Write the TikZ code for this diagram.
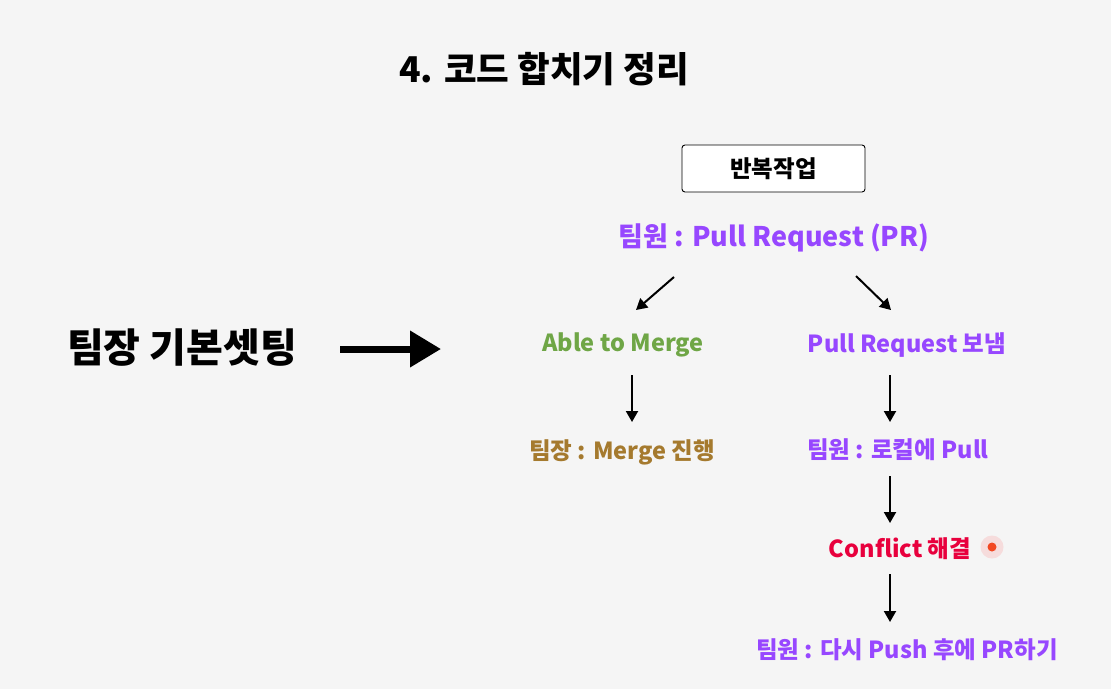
\documentclass[tikz,border=0pt]{standalone}
\usepackage{fontspec}
\setmainfont{Noto Sans CJK KR}
\usetikzlibrary{arrows.meta}
\definecolor{bg}{HTML}{F5F5F5}
\definecolor{prp}{HTML}{9747FF}
\definecolor{grn}{HTML}{6FA646}
\definecolor{brn}{HTML}{A57A2E}
\definecolor{red1}{HTML}{E8003D}
\definecolor{dotred}{HTML}{F24822}
\definecolor{dothalo}{HTML}{F6DCDC}
\tikzset{
  lbl/.style={font=\bfseries\fontsize{23.5}{28}\selectfont, inner sep=0pt, anchor=center},
  arr/.style={line width=2pt, -{Triangle[length=11pt,width=12pt]}},
}
\begin{document}
\begin{tikzpicture}[x=1pt,y=-1pt]
\fill[bg] (0,0) rectangle (1111,689);
\useasboundingbox (0,0) rectangle (1111,689);
% title
\node[lbl, font=\bfseries\fontsize{35.5}{40}\selectfont] (title) at (544,69) {4. 코드 합치기 정리};
% box
\node[draw=black, line width=0.9pt, fill=white, rounded corners=3pt, minimum width=183pt, minimum height=47pt, inner sep=0pt, font=\bfseries\fontsize{23.5}{28}\selectfont] (box) at (773.5,168.5) {반복작업};
\node[lbl, prp, font=\bfseries\fontsize{27}{32}\selectfont] (pr) at (774,238) {팀원 : Pull Request (PR)};
% left
\node[lbl, font=\bfseries\fontsize{40}{46}\selectfont] (lead) at (182,348) {팀장 기본셋팅};
\coordinate (bigA) at (340,349);
\coordinate (bigB) at (441,349);
\draw[line width=7pt, -{Triangle[length=31pt,width=35pt]}] (bigA) -- (bigB);
% split arrows
\coordinate (s1) at (674,277); \coordinate (e1) at (636,310);
\coordinate (s2) at (856,276); \coordinate (e2) at (891,310);
\draw[arr] (s1) -- (e1);
\draw[arr] (s2) -- (e2);
% left column
\node[lbl, grn] (able) at (623,345) {Able to Merge};
\coordinate (s3) at (632,375); \coordinate (e3) at (632,422);
\draw[arr] (s3) -- (e3);
\node[lbl, brn] (merge) at (622,452) {팀장 : Merge 진행};
% right column
\node[lbl, prp] (send) at (907,345) {Pull Request 보냄};
\coordinate (s4) at (890,375); \coordinate (e4) at (890,422);
\draw[arr] (s4) -- (e4);
\node[lbl, prp] (local) at (898,450) {팀원 : 로컬에 Pull};
\coordinate (s5) at (890,476); \coordinate (e5) at (890,523);
\draw[arr] (s5) -- (e5);
\node[lbl, red1] (conf) at (900,549) {Conflict 해결};
\node[circle, fill=dothalo, minimum size=23pt, inner sep=0pt] (halo) at (992,547) {};
\node[circle, fill=dotred, minimum size=9pt, inner sep=0pt] (dot) at (halo.center) {};
\coordinate (s6) at (890,574); \coordinate (e6) at (890,622);
\draw[arr] (s6) -- (e6);
\node[lbl, prp] (push) at (907,650) {팀원 : 다시 Push 후에 PR하기};
\end{tikzpicture}
\end{document}
